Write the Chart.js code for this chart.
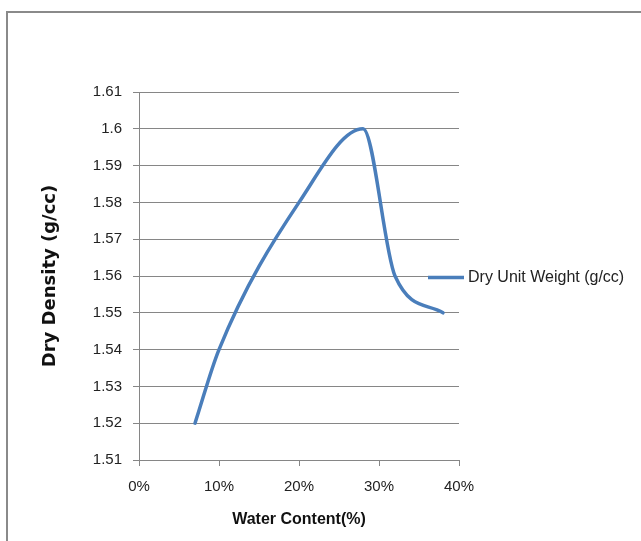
<!DOCTYPE html>
<html>
<head>
<meta charset="utf-8">
<script src="https://cdn.jsdelivr.net/npm/chart.js@4"></script>
<style>
  html, body { margin: 0; padding: 0; background: #fff; }
  body { width: 641px; height: 541px; position: relative; overflow: hidden; }
  #frame {
    position: absolute; left: 6px; top: 11px; width: 700px; height: 600px;
    border-left: 2px solid #8a8a8a; border-top: 2px solid #8a8a8a;
  }
  #chart { position: absolute; left: 0; top: 0; }
</style>
</head>
<body>
<div id="frame"></div>
<canvas id="chart" width="641" height="541"></canvas>
<script>
// compaction test results
const waterContent = [0.07, 0.10, 0.20, 0.28, 0.32, 0.38];
const dryDensity = [1.52, 1.54, 1.58, 1.60, 1.56, 1.55];
const xTickValues = [0, 0.1, 0.2, 0.3, 0.4];
const yTickValues = [1.51, 1.52, 1.53, 1.54, 1.55, 1.56, 1.57, 1.58, 1.59, 1.60, 1.61];
const seriesName = 'Dry Unit Weight (g/cc)';

const LINE_COLOR = '#4a7ebb';
const GRID_COLOR = '#868686';
const SANS = "'Liberation Sans', Arial, sans-serif";
const TICK_FONT = { family: SANS, size: 15 };

const points = waterContent.map((x, i) => ({ x: x, y: dryDensity[i] }));

// simple legend to the right of the plot
const sideLegend = {
  id: 'sideLegend',
  afterDraw(chart) {
    const ctx = chart.ctx;
    const y = 277.5;
    ctx.save();
    ctx.strokeStyle = LINE_COLOR;
    ctx.lineWidth = 3.5;
    ctx.beginPath();
    ctx.moveTo(428, y);
    ctx.lineTo(464, y);
    ctx.stroke();
    ctx.fillStyle = '#222';
    ctx.font = '16px ' + SANS;
    ctx.textBaseline = 'middle';
    ctx.fillText(seriesName, 468, y);
    ctx.restore();
  }
};

new Chart(document.getElementById('chart'), {
  type: 'scatter',
  data: {
    datasets: [{
      label: seriesName,
      data: points,
      showLine: true,
      borderColor: LINE_COLOR,
      backgroundColor: LINE_COLOR,
      borderWidth: 3.5,
      pointRadius: 0,
      cubicInterpolationMode: 'monotone',
      borderCapStyle: 'round',
      clip: false
    }]
  },
  options: {
    responsive: false,
    animation: false,
    layout: { padding: { left: 0, top: 92, right: 182, bottom: 0 } },
    plugins: {
      legend: { display: false },
      tooltip: { enabled: false }
    },
    scales: {
      x: {
        type: 'linear',
        min: 0,
        max: 0.4,
        afterBuildTicks: (axis) => { axis.ticks = xTickValues.map(v => ({ value: v })); },
        afterFit: (axis) => { axis.height = 81; },
        ticks: {
          color: '#222',
          font: TICK_FONT,
          padding: 12,
          callback: (v) => Math.round(v * 100) + '%'
        },
        grid: { drawOnChartArea: false, color: GRID_COLOR, tickLength: 6 },
        border: { color: GRID_COLOR, width: 1 },
        title: {
          display: true,
          text: 'Water Content(%)',
          color: '#111',
          font: { family: SANS, size: 16, weight: 'bold' },
          padding: { top: 0, bottom: 12 }
        }
      },
      y: {
        type: 'linear',
        min: 1.51,
        max: 1.61,
        afterBuildTicks: (axis) => { axis.ticks = yTickValues.map(v => ({ value: v })); },
        afterFit: (axis) => { axis.width = 139; },
        ticks: {
          color: '#222',
          font: TICK_FONT,
          padding: 11,
          callback: (v) => String(Number(v.toFixed(2)))
        },
        grid: { color: GRID_COLOR, tickLength: 6 },
        border: { color: GRID_COLOR, width: 1 },
        title: {
          display: true,
          text: 'Dry Density (g/cc)',
          color: '#111',
          font: { family: "'DejaVu Sans', sans-serif", size: 18, weight: 'bold' },
          padding: { top: 40, bottom: 0 }
        }
      }
    }
  },
  plugins: [sideLegend]
});
</script>
</body>
</html>
